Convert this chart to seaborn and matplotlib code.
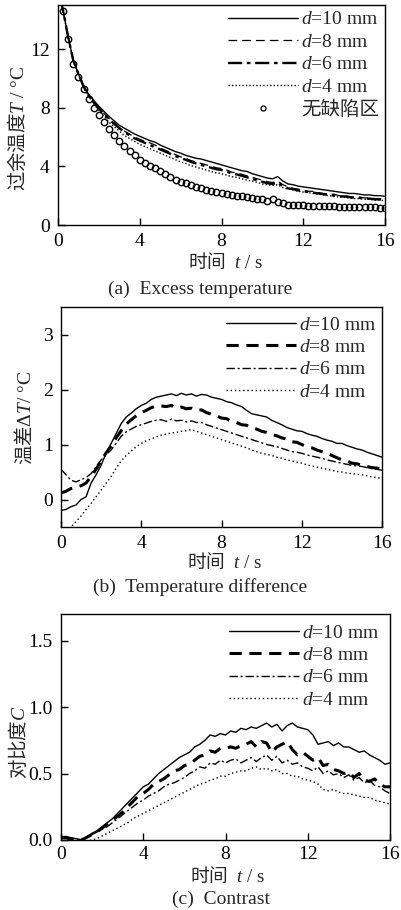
import numpy as np
import pandas as pd
import matplotlib
matplotlib.use("Agg")
import matplotlib.pyplot as plt
import seaborn as sns
from matplotlib.lines import Line2D

sns.set_style("ticks")
plt.rcParams["font.family"] = ["Liberation Serif", "Noto Sans CJK SC"]
plt.rcParams["mathtext.fontset"] = "custom"
plt.rcParams["mathtext.rm"] = "Liberation Serif"
plt.rcParams["mathtext.it"] = "Liberation Serif:italic"
plt.rcParams["mathtext.sf"] = "Noto Sans CJK SC"
plt.rcParams["axes.unicode_minus"] = False

# sampling times (s)
time_s = np.arange(0, 16.001, 0.25)

# (a) excess temperature, degC
exc_d10 = [16.2, 14.6, 12.8, 11.2, 10.3, 9.5, 8.9, 8.5, 8.1, 7.75, 7.4, 7.1, 6.8, 6.6, 6.4, 6.2,
           6.05, 5.9, 5.75, 5.65, 5.45, 5.3, 5.15, 5.0, 4.9, 4.75, 4.65, 4.55, 4.5, 4.4, 4.3, 4.2,
           4.1, 4.0, 3.9, 3.8, 3.7, 3.65, 3.5, 3.4, 3.3, 3.2, 3.15, 3.3, 3.0, 2.8, 2.75, 2.65,
           2.6, 2.55, 2.5, 2.45, 2.4, 2.35, 2.3, 2.25, 2.2, 2.15, 2.15, 2.1, 2.05, 2.05, 2.0, 2.0, 1.95]
exc_d8 = [16.2, 14.6, 12.8, 11.2, 10.3, 9.5, 8.85, 8.4, 8.0, 7.6, 7.25, 6.95, 6.65, 6.4, 6.2, 6.0,
          5.85, 5.7, 5.6, 5.45, 5.25, 5.1, 4.95, 4.8, 4.65, 4.55, 4.4, 4.3, 4.2, 4.1, 4.0, 3.9,
          3.85, 3.75, 3.6, 3.55, 3.45, 3.35, 3.25, 3.15, 3.05, 2.95, 2.9, 3.0, 2.75, 2.6, 2.5, 2.45,
          2.35, 2.3, 2.3, 2.2, 2.15, 2.1, 2.1, 2.0, 2.0, 1.95, 1.9, 1.9, 1.85, 1.85, 1.8, 1.8, 1.75]
exc_d6 = [16.2, 14.6, 12.8, 11.2, 10.3, 9.45, 8.8, 8.35, 7.95, 7.55, 7.2, 6.9, 6.6, 6.35, 6.1, 5.9,
          5.75, 5.6, 5.45, 5.3, 5.15, 5.0, 4.85, 4.7, 4.55, 4.45, 4.3, 4.2, 4.1, 4.0, 3.9, 3.8,
          3.75, 3.65, 3.5, 3.45, 3.35, 3.25, 3.15, 3.05, 2.95, 2.85, 2.8, 2.9, 2.65, 2.5, 2.45, 2.35,
          2.3, 2.25, 2.2, 2.15, 2.1, 2.05, 2.0, 1.95, 1.95, 1.9, 1.85, 1.85, 1.8, 1.8, 1.75, 1.75, 1.7]
exc_d4 = [16.2, 14.6, 12.8, 11.2, 10.25, 9.4, 8.75, 8.25, 7.8, 7.4, 7.0, 6.7, 6.4, 6.1, 5.9, 5.7,
          5.5, 5.35, 5.2, 5.05, 4.9, 4.75, 4.6, 4.45, 4.3, 4.2, 4.05, 3.95, 3.85, 3.75, 3.65, 3.55,
          3.5, 3.4, 3.3, 3.25, 3.15, 3.05, 3.0, 2.9, 2.8, 2.75, 2.7, 2.75, 2.55, 2.45, 2.4, 2.3,
          2.25, 2.2, 2.15, 2.1, 2.05, 2.0, 1.95, 1.9, 1.9, 1.85, 1.8, 1.8, 1.75, 1.75, 1.7, 1.7, 1.65]
exc_sound = [16.2, 14.6, 12.7, 11.0, 10.1, 9.3, 8.6, 8.0, 7.5, 7.0, 6.55, 6.15, 5.75, 5.4, 5.05, 4.75,
             4.45, 4.25, 4.05, 3.9, 3.7, 3.5, 3.25, 3.1, 2.95, 2.85, 2.7, 2.6, 2.5, 2.4, 2.35, 2.25,
             2.2, 2.1, 2.05, 2.0, 1.95, 1.9, 1.85, 1.8, 1.75, 1.65, 1.75, 1.6, 1.5, 1.38, 1.37, 1.35,
             1.33, 1.32, 1.31, 1.3, 1.3, 1.28, 1.27, 1.26, 1.25, 1.24, 1.23, 1.22, 1.22, 1.2, 1.2, 1.19, 1.18]

# (b) temperature difference, degC
dif_d10 = [-0.2, -0.18, -0.13, -0.1, 0.0, 0.05, 0.3, 0.45, 0.62, 0.85, 1.02, 1.2, 1.38, 1.5, 1.57, 1.65,
           1.71, 1.75, 1.82, 1.86, 1.88, 1.9, 1.92, 1.89, 1.93, 1.9, 1.92, 1.88, 1.91, 1.9, 1.86, 1.84,
           1.82, 1.78, 1.76, 1.72, 1.69, 1.62, 1.56, 1.54, 1.52, 1.5, 1.44, 1.4, 1.36, 1.31, 1.28, 1.25,
           1.24, 1.2, 1.17, 1.15, 1.11, 1.08, 1.06, 1.02, 1.02, 0.98, 0.95, 0.92, 0.9, 0.86, 0.83, 0.8, 0.77]
dif_d8 = [0.12, 0.15, 0.2, 0.22, 0.25, 0.3, 0.42, 0.55, 0.7, 0.85, 0.97, 1.12, 1.25, 1.37, 1.45, 1.52,
          1.58, 1.62, 1.67, 1.7, 1.7, 1.69, 1.71, 1.66, 1.68, 1.65, 1.66, 1.62, 1.63, 1.58, 1.55, 1.52,
          1.48, 1.47, 1.42, 1.4, 1.36, 1.35, 1.3, 1.28, 1.24, 1.22, 1.18, 1.16, 1.12, 1.1, 1.05, 1.04,
          1.0, 0.96, 0.94, 0.9, 0.87, 0.85, 0.8, 0.76, 0.72, 0.7, 0.66, 0.65, 0.62, 0.6, 0.58, 0.57, 0.55]
dif_d6 = [0.55, 0.45, 0.35, 0.32, 0.36, 0.4, 0.47, 0.6, 0.72, 0.82, 0.9, 1.02, 1.15, 1.23, 1.28, 1.33,
          1.36, 1.39, 1.42, 1.44, 1.45, 1.42, 1.46, 1.43, 1.44, 1.41, 1.43, 1.4, 1.4, 1.36, 1.33, 1.3,
          1.27, 1.24, 1.21, 1.18, 1.15, 1.12, 1.09, 1.06, 1.03, 1.0, 0.98, 0.96, 0.93, 0.9, 0.87, 0.86,
          0.84, 0.81, 0.79, 0.77, 0.75, 0.72, 0.7, 0.68, 0.66, 0.64, 0.62, 0.61, 0.6, 0.58, 0.56, 0.55, 0.53]
dif_d4 = [-0.8, -0.65, -0.5, -0.4, -0.3, -0.18, -0.07, 0.05, 0.17, 0.3, 0.42, 0.57, 0.7, 0.8, 0.88, 0.96,
          1.02, 1.07, 1.1, 1.14, 1.17, 1.19, 1.21, 1.22, 1.24, 1.25, 1.27, 1.24, 1.21, 1.18, 1.15, 1.12,
          1.09, 1.06, 1.03, 1.0, 0.97, 0.94, 0.9, 0.87, 0.84, 0.82, 0.8, 0.77, 0.75, 0.72, 0.7, 0.68,
          0.66, 0.63, 0.61, 0.59, 0.57, 0.55, 0.53, 0.51, 0.5, 0.48, 0.47, 0.46, 0.45, 0.43, 0.41, 0.4, 0.38]

# (c) contrast
con_d10 = [0.02, 0.02, 0.015, 0.01, 0.0, 0.02, 0.05, 0.07, 0.1, 0.13, 0.16, 0.2, 0.24, 0.28, 0.32, 0.36,
           0.4, 0.42, 0.46, 0.5, 0.53, 0.56, 0.59, 0.62, 0.64, 0.66, 0.7, 0.72, 0.75, 0.79, 0.78, 0.8,
           0.79, 0.82, 0.81, 0.84, 0.83, 0.85, 0.84, 0.86, 0.88, 0.85, 0.87, 0.82, 0.86, 0.88, 0.85, 0.84,
           0.83, 0.79, 0.72, 0.73, 0.74, 0.71, 0.73, 0.7, 0.7, 0.68, 0.66, 0.67, 0.64, 0.62, 0.6, 0.57, 0.58]
con_d8 = [0.02, 0.02, 0.01, 0.0, 0.0, 0.02, 0.04, 0.06, 0.09, 0.12, 0.15, 0.18, 0.21, 0.25, 0.29, 0.33,
          0.35, 0.38, 0.42, 0.44, 0.46, 0.49, 0.52, 0.53, 0.56, 0.57, 0.6, 0.63, 0.64, 0.67, 0.66, 0.69,
          0.69, 0.7, 0.69, 0.71, 0.72, 0.74, 0.7, 0.74, 0.73, 0.66, 0.7, 0.72, 0.74, 0.68, 0.64, 0.66,
          0.63, 0.6, 0.62, 0.56, 0.57, 0.53, 0.52, 0.5, 0.51, 0.47, 0.5, 0.45, 0.44, 0.46, 0.42, 0.4, 0.4]
con_d6 = [0.01, 0.01, 0.0, 0.0, 0.0, 0.02, 0.04, 0.06, 0.08, 0.1, 0.13, 0.16, 0.19, 0.22, 0.25, 0.28,
          0.3, 0.33, 0.35, 0.37, 0.4, 0.42, 0.43, 0.45, 0.47, 0.5, 0.52, 0.55, 0.54, 0.58, 0.57, 0.6,
          0.58, 0.6, 0.61, 0.58, 0.6, 0.62, 0.59, 0.62, 0.64, 0.6, 0.63, 0.58, 0.6, 0.57, 0.58, 0.55,
          0.54, 0.52, 0.55, 0.5, 0.52, 0.49, 0.5, 0.47, 0.49, 0.45, 0.47, 0.43, 0.45, 0.41, 0.4, 0.37, 0.35]
con_d4 = [-0.02, -0.02, -0.02, -0.02, -0.02, -0.01, 0.0, 0.01, 0.03, 0.05, 0.07, 0.09, 0.11, 0.13, 0.16, 0.18,
          0.2, 0.22, 0.24, 0.26, 0.28, 0.3, 0.32, 0.34, 0.36, 0.38, 0.4, 0.42, 0.43, 0.45, 0.46, 0.48,
          0.48, 0.5, 0.51, 0.52, 0.52, 0.54, 0.55, 0.53, 0.54, 0.52, 0.53, 0.5, 0.5, 0.48, 0.48, 0.46,
          0.45, 0.44, 0.42, 0.38, 0.37, 0.38, 0.36, 0.35, 0.35, 0.34, 0.33, 0.32, 0.32, 0.3, 0.29, 0.28, 0.27]

legend_labels = ["$d$=10 mm", "$d$=8 mm", "$d$=6 mm", "$d$=4 mm"]
sound_label = "无缺陷区"
x_label = r"$\mathsf{时间}$  $t$ / s"
y_label_a = r"$\mathsf{过余温度}T$ / °C"
y_label_b = r"$\mathsf{温差}\Delta T$/ °C"
y_label_c = r"$\mathsf{对比度}C$"
captions = ["(a)  Excess temperature", "(b)  Temperature difference", "(c)  Contrast"]

TICK_FS = 14
XLAB_FS = 13.5
YLAB_FS = 14
LEG_FS = 14
CAP_FS = 14

style_a = [dict(ls="-", lw=1.0),
           dict(ls=(0, (7, 4)), lw=0.9),
           dict(ls=(0, (6, 2, 1.5, 2)), lw=1.7),
           dict(ls=(0, (1, 1.5)), lw=1.0)]
style_bc = [dict(ls="-", lw=1.0),
            dict(ls=(0, (4, 2.5)), lw=2.2),
            dict(ls=(0, (6, 2, 1.5, 2)), lw=1.0),
            dict(ls=(0, (1, 2)), lw=1.0)]

fig = plt.figure(figsize=(4.01, 9.10), dpi=100)
W, H = 401, 910


def add_axes(left, top, right, bottom):
    return fig.add_axes([left / W, (H - bottom) / H, (right - left) / W, (bottom - top) / H])


ax_a = add_axes(58, 5, 385, 225)
ax_b = add_axes(61, 307, 382, 527)
ax_c = add_axes(61, 614, 390, 840)


def draw_series(ax, series, styles):
    handles = []
    for y, st, lab in zip(series, styles, legend_labels):
        sns.lineplot(x=time_s, y=y, ax=ax, color="black", linestyle=st["ls"],
                     linewidth=st["lw"], estimator=None, sort=False, legend=False)
        handles.append(Line2D([], [], color="black", linestyle=st["ls"], linewidth=st["lw"], label=lab))
    return handles


def style_axes(ax, ylim, yticks, yfmt, ylabel, xlab_pos, ylab_pos, xpad):
    ax.set_xlim(0, 16)
    ax.set_ylim(*ylim)
    ax.set_xticks([0, 4, 8, 12, 16])
    ax.set_yticks(yticks)
    ax.set_yticklabels([yfmt.format(v) for v in yticks])
    ax.tick_params(direction="in", length=5, width=1, labelsize=TICK_FS, colors="black",
                   top=False, right=False)
    ax.tick_params(axis="x", pad=xpad)
    ax.tick_params(axis="y", pad=6)
    for s in ax.spines.values():
        s.set_visible(True)
        s.set_linewidth(1.0)
        s.set_color("black")
    ax.set_xlabel(x_label, fontsize=XLAB_FS, va="center", ha="center")
    ax.xaxis.set_label_coords(*xlab_pos)
    ax.set_ylabel(ylabel, fontsize=YLAB_FS, va="center", ha="center")
    ax.yaxis.set_label_coords(*ylab_pos)


# (a)
h_a = draw_series(ax_a, [exc_d10, exc_d8, exc_d6, exc_d4], style_a)
sns.lineplot(x=time_s, y=exc_sound, ax=ax_a, color="black", linestyle="none", marker="o",
             markersize=4.6, markerfacecolor="none", markeredgecolor="black",
             markeredgewidth=1.0, estimator=None, sort=False, legend=False)
h_a.append(Line2D([], [], linestyle="none", marker="o", markersize=3.6, markerfacecolor="none",
                  markeredgecolor="black", markeredgewidth=0.9, label=sound_label))
style_axes(ax_a, (0, 15), [0, 4, 8, 12], "{:g}", y_label_a, (0.514, -0.168), (-0.124, 0.441), 6)

# (b)
h_b = draw_series(ax_b, [dif_d10, dif_d8, dif_d6, dif_d4], style_bc)
style_axes(ax_b, (-0.5, 3.5), [0, 1, 2, 3], "{:g}", y_label_b, (0.511, -0.159), (-0.115, 0.495), 6)

# (c)
h_c = draw_series(ax_c, [con_d10, con_d8, con_d6, con_d4], style_bc)
style_axes(ax_c, (0, 1.7), [0.0, 0.5, 1.0, 1.5], "{:.1f}", y_label_c, (0.508, -0.157), (-0.132, 0.434), 4.5)

for ax, hs, anchor in [(ax_a, h_a, (1.0, 1.0)), (ax_b, h_b, (1.0, 0.986)), (ax_c, h_c, (0.985, 0.982))]:
    ax.legend(handles=hs, loc="upper right", bbox_to_anchor=anchor, frameon=False,
              fontsize=LEG_FS, handlelength=3.6, handletextpad=0.15, labelspacing=0.25,
              borderaxespad=0.15, borderpad=0.15)

for (cx, cy), txt in zip([(200, 289), (200, 587), (221, 899)], captions):
    fig.text(cx / W, 1 - cy / H, txt, ha="center", va="center", fontsize=CAP_FS)

fig.savefig("out.png", dpi=100)
